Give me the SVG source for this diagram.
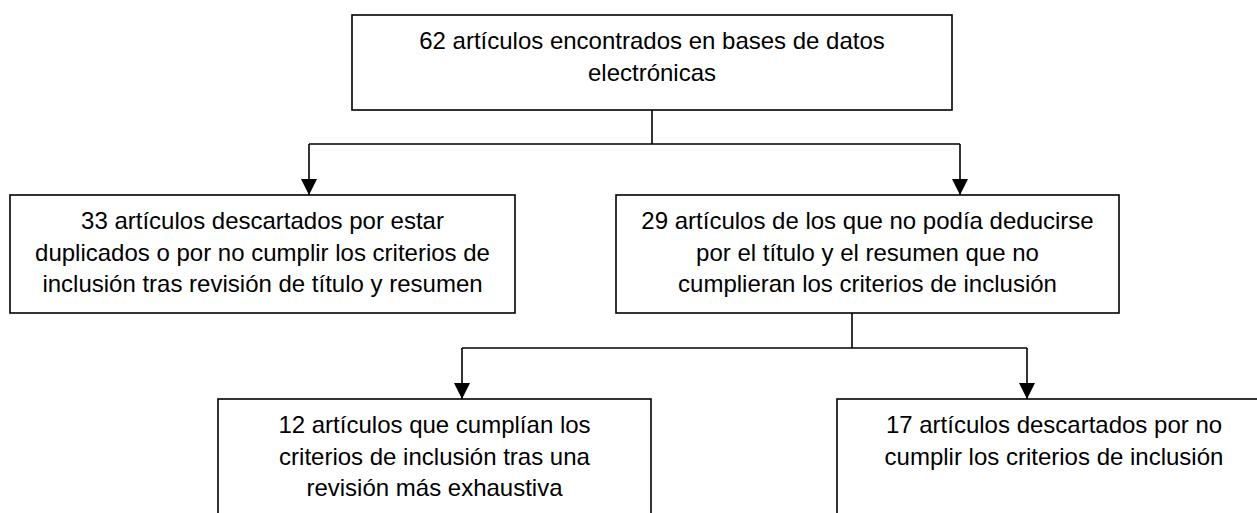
<svg xmlns="http://www.w3.org/2000/svg" width="1257" height="513" viewBox="0 0 1257 513">
<defs>
<style>
.box{fill:#fff;stroke:#000;stroke-width:1.6}
.ln{fill:none;stroke:#000;stroke-width:1.6}
.t{font-family:"Liberation Sans",Arial,sans-serif;font-size:24px;fill:#000;text-anchor:middle}
</style>
<marker id="ah" viewBox="0 0 16 16" refX="16" refY="8" markerWidth="16" markerHeight="16" markerUnits="userSpaceOnUse" orient="auto">
<path d="M0,0 L16,8 L0,16 z" fill="#000"/>
</marker>
</defs>
<rect width="1257" height="513" fill="#fff"/>
<g id="connectors">
<path class="ln" d="M652,110 V144"/>
<path class="ln" d="M309,144 H960"/>
<path class="ln" d="M309,144 V195" marker-end="url(#ah)"/>
<path class="ln" d="M960,144 V195" marker-end="url(#ah)"/>
<path class="ln" d="M852,313 V348"/>
<path class="ln" d="M462,348 H1027"/>
<path class="ln" d="M462,348 V399" marker-end="url(#ah)"/>
<path class="ln" d="M1027,348 V399" marker-end="url(#ah)"/>
</g>
<g id="n1">
<rect class="box" x="352" y="15" width="600" height="95"/>
<text class="t" x="652" y="49">62 artículos encontrados en bases de datos</text>
<text class="t" x="652" y="81">electrónicas</text>
</g>
<g id="n2">
<rect class="box" x="10" y="195" width="505" height="118"/>
<text class="t" x="262.5" y="229">33 artículos descartados por estar</text>
<text class="t" x="262.5" y="261">duplicados o por no cumplir los criterios de</text>
<text class="t" x="262.5" y="292">inclusión tras revisión de título y resumen</text>
</g>
<g id="n3">
<rect class="box" x="616" y="195" width="503" height="118"/>
<text class="t" x="867.5" y="229">29 artículos de los que no podía deducirse</text>
<text class="t" x="867.5" y="261">por el título y el resumen que no</text>
<text class="t" x="867.5" y="292">cumplieran los criterios de inclusión</text>
</g>
<g id="n4">
<rect class="box" x="218" y="399" width="433" height="140"/>
<text class="t" x="434.5" y="433">12 artículos que cumplían los</text>
<text class="t" x="434.5" y="465">criterios de inclusión tras una</text>
<text class="t" x="434.5" y="496">revisión más exhaustiva</text>
</g>
<g id="n5">
<rect class="box" x="837" y="399" width="434" height="140"/>
<text class="t" x="1054" y="433">17 artículos descartados por no</text>
<text class="t" x="1054" y="465">cumplir los criterios de inclusión</text>
</g>
</svg>
